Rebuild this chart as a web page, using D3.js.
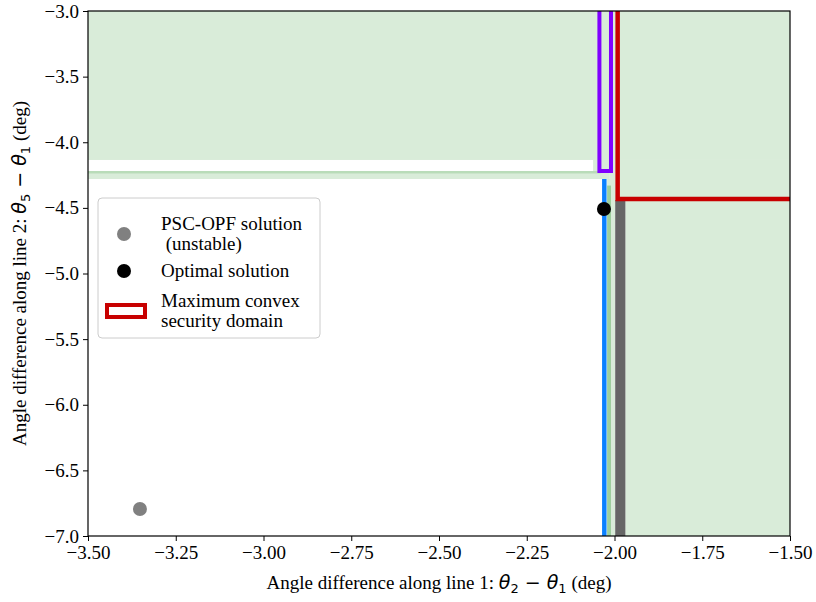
<!DOCTYPE html>
<html>
<head>
<meta charset="utf-8">
<script src="https://cdn.jsdelivr.net/npm/d3@7"></script>
<style>
	body { margin: 0; background: #fff; }
	svg text { font-family: "Liberation Serif", "Times New Roman", serif; fill: #000; }
	.math { font-family: "DejaVu Sans", sans-serif; }
</style>
</head>
<body>
<div id="chart"></div>
<script>
// axis ticks
const xTicks = [-3.5, -3.25, -3.0, -2.75, -2.5, -2.25, -2.0, -1.75, -1.5];
const yTicks = [-3.0, -3.5, -4.0, -4.5, -5.0, -5.5, -6.0, -6.5, -7.0];

// secure regions (x0, x1, y0, y1) and their shade level
const greenRegions = [
	{x0: -3.5, x1: -1.5, y0: -4.135, y1: -3.0, level: 1},
	{x0: -2.061, x1: -1.5, y0: -4.219, y1: -4.135, level: 1},
	{x0: -2.015, x1: -1.5, y0: -4.44, y1: -4.219, level: 1},
	{x0: -1.969, x1: -1.5, y0: -7.0, y1: -4.44, level: 1},
	{x0: -3.5, x1: -2.015, y0: -4.28, y1: -4.219, level: 1},
	{x0: -3.5, x1: -2.04, y0: -4.238, y1: -4.219, level: 2},
	{x0: -2.021, x1: -1.998, y0: -7.0, y1: -4.28, level: 1},
	{x0: -2.021, x1: -2.010, y0: -7.0, y1: -4.33, level: 3}
];
// unstable band
const grayBand = {x0: -1.998, x1: -1.969, y0: -7.0, y1: -4.44};

// boundary lines
const blueLine = [[-2.029, -4.28], [-2.029, -7.2]];
const purpleLine = [[-2.043, -2.8], [-2.043, -4.219], [-2.010, -4.219], [-2.010, -2.8]];
const redLine = [[-1.991, -2.8], [-1.991, -4.432], [-1.4, -4.432]];

// solutions
const pscOpf = {x: -3.352, y: -6.794};
const optimal = {x: -2.030, y: -4.509};

const fontSize = "19px";

const margin = {top: 11, right: 26, bottom: 66, left: 88},
	width = 816 - margin.left - margin.right,
	height = 602 - margin.top - margin.bottom;

const x = d3.scaleLinear().domain([-3.5, -1.5]).range([0, width]);
const y = d3.scaleLinear().domain([-7.0, -3.0]).range([height, 0]);

const svg = d3.select("#chart")
	.append("svg")
	.attr("width", 816)
	.attr("height", 602)
	.append("g")
	.attr("transform", "translate(" + margin.left + "," + margin.top + ")");

svg.append("clipPath")
	.attr("id", "plot-clip")
	.append("rect")
	.attr("width", width)
	.attr("height", height);

const plot = svg.append("g").attr("clip-path", "url(#plot-clip)");

const shade = {1: "#d9ecd9", 2: "#b9dcb9", 3: "#9dcf9d"};

plot.selectAll(".region")
	.data(greenRegions)
	.enter().append("rect")
	.attr("class", "region")
	.attr("x", d => x(d.x0))
	.attr("y", d => y(d.y1))
	.attr("width", d => x(d.x1) - x(d.x0))
	.attr("height", d => y(d.y0) - y(d.y1))
	.attr("fill", d => shade[d.level]);

plot.append("rect")
	.attr("x", x(grayBand.x0))
	.attr("y", y(grayBand.y1))
	.attr("width", x(grayBand.x1) - x(grayBand.x0))
	.attr("height", y(grayBand.y0) - y(grayBand.y1))
	.attr("fill", "#666666");

const line = d3.line().x(d => x(d[0])).y(d => y(d[1]));

plot.append("path")
	.attr("d", line(blueLine))
	.attr("fill", "none")
	.attr("stroke", "#0a80ff")
	.attr("stroke-width", 4.5);

plot.append("path")
	.attr("d", line(purpleLine))
	.attr("fill", "none")
	.attr("stroke", "#8000ff")
	.attr("stroke-width", 4);

plot.append("path")
	.attr("d", line(redLine))
	.attr("fill", "none")
	.attr("stroke", "#c80000")
	.attr("stroke-width", 4.5);

plot.append("circle")
	.attr("cx", x(pscOpf.x))
	.attr("cy", y(pscOpf.y))
	.attr("r", 7)
	.attr("fill", "#808080");

plot.append("circle")
	.attr("cx", x(optimal.x))
	.attr("cy", y(optimal.y))
	.attr("r", 7)
	.attr("fill", "#000");

// axes
const minus = s => s.replace("-", "\u2212");

svg.append("g")
	.attr("transform", "translate(0," + height + ")")
	.call(d3.axisBottom(x)
		.tickValues(xTicks)
		.tickSize(5)
		.tickPadding(5)
		.tickFormat(d => minus(d3.format(".2f")(d))))
	.call(g => g.select(".domain").remove());

svg.append("g")
	.call(d3.axisLeft(y)
		.tickValues(yTicks)
		.tickSize(5)
		.tickPadding(4)
		.tickFormat(d => minus(d3.format(".1f")(d))))
	.call(g => g.select(".domain").remove());

svg.selectAll(".tick line").attr("stroke", "#000").attr("stroke-width", 1);
svg.selectAll(".tick text")
	.style("font-family", "'Liberation Serif', 'Times New Roman', serif")
	.style("font-size", fontSize);

// frame
svg.append("rect")
	.attr("width", width)
	.attr("height", height)
	.attr("fill", "none")
	.attr("stroke", "#000")
	.attr("stroke-width", 1.2);

// axis titles with mathtext-like theta parts
function mathLabel(sel, prefix, a, b) {
	sel.append("tspan").text(prefix);
	sel.append("tspan").attr("class", "math").style("font-style", "italic").text("θ");
	sel.append("tspan").attr("class", "math").attr("font-size", "13px").attr("dy", 4).text(a);
	sel.append("tspan").attr("class", "math").attr("dy", -4).text(" \u2212 ");
	sel.append("tspan").attr("class", "math").style("font-style", "italic").text("θ");
	sel.append("tspan").attr("class", "math").attr("font-size", "13px").attr("dy", 4).text(b);
	sel.append("tspan").attr("dy", -4).text(" (deg)");
}

const xTitle = svg.append("text")
	.attr("x", width / 2)
	.attr("y", height + 53)
	.attr("text-anchor", "middle")
	.style("font-size", fontSize);
mathLabel(xTitle, "Angle difference along line 1: ", "2", "1");

const yTitle = svg.append("text")
	.attr("transform", "translate(" + (-62) + "," + (height / 2) + ") rotate(-90)")
	.attr("text-anchor", "middle")
	.style("font-size", fontSize);
mathLabel(yTitle, "Angle difference along line 2: ", "5", "1");

// legend
const legend = svg.append("g").attr("transform", "translate(10,187)");
legend.append("rect")
	.attr("width", 222)
	.attr("height", 140)
	.attr("rx", 4)
	.attr("fill", "#fff")
	.attr("fill-opacity", 0.85)
	.attr("stroke", "#cccccc")
	.attr("stroke-width", 1);

const legendItems = [
	{label: ["PSC-OPF solution", " (unstable)"], kind: "dot", color: "#808080", y: 36},
	{label: ["Optimal solution"], kind: "dot", color: "#000", y: 73},
	{label: ["Maximum convex", "security domain"], kind: "patch", color: "#c80000", y: 113}
];

legendItems.forEach(item => {
	if (item.kind === "dot") {
		legend.append("circle")
			.attr("cx", 26).attr("cy", item.y).attr("r", 7)
			.attr("fill", item.color);
	} else {
		legend.append("rect")
			.attr("x", 9).attr("y", item.y - 6)
			.attr("width", 38).attr("height", 12)
			.attr("fill", "#fff")
			.attr("stroke", item.color)
			.attr("stroke-width", 4);
	}
	const t = legend.append("text")
		.style("font-size", fontSize)
		.attr("x", 63)
		.attr("y", item.y + 6 - (item.label.length - 1) * 10);
	item.label.forEach((s, i) => {
		t.append("tspan").attr("x", 63).attr("dy", i === 0 ? 0 : 20).text(s);
	});
});
</script>
</body>
</html>
